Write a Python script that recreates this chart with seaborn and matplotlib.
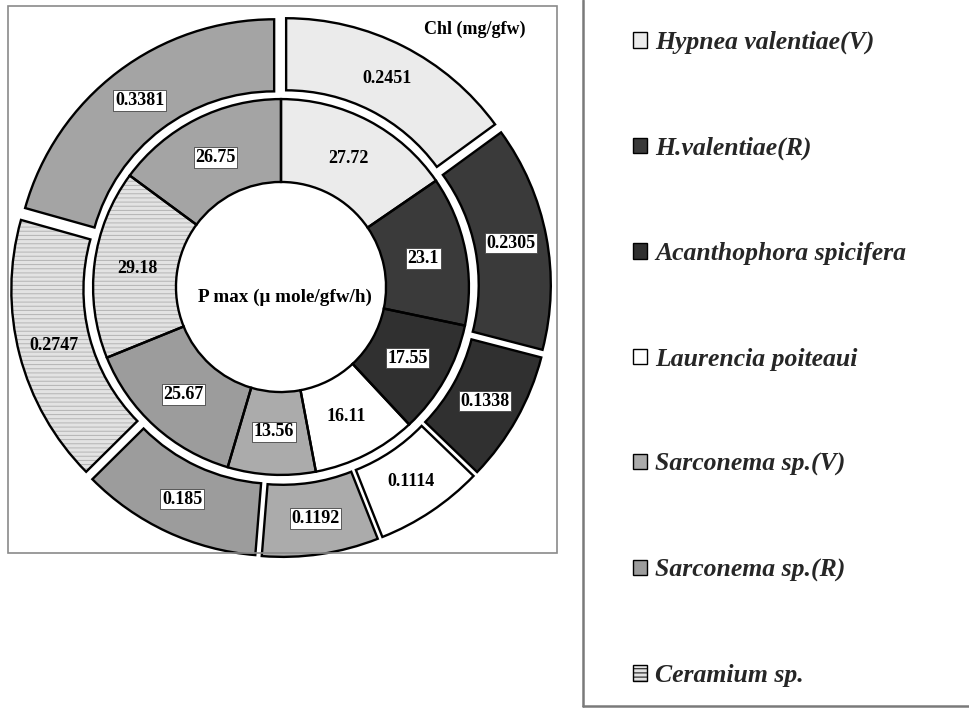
import matplotlib
matplotlib.use('Agg')
import matplotlib.pyplot as plt
import matplotlib.patches as mpatches
from matplotlib.lines import Line2D
import seaborn as sns

# data (clockwise from 12 o'clock)
species = ['Hypnea valentiae(V)', 'H.valentiae(R)', 'Acanthophora spicifera',
           'Laurencia poiteaui', 'Sarconema sp.(V)', 'Sarconema sp.(R)',
           'Ceramium sp.', '']
pmax = [27.72, 23.1, 17.55, 16.11, 13.56, 25.67, 29.18, 26.75]
chl = [0.2451, 0.2305, 0.1338, 0.1114, 0.1192, 0.185, 0.2747, 0.3381]

fills = ['#ebebeb', '#3a3a3a', '#303030', '#ffffff',
         '#ababab', '#9c9c9c', '#e3e3e3', '#a4a4a4']
hatches = [None, None, None, None, None, None, '----', None]
boxed = [False, True, True, False, True, True, False, True]

sns.set_theme(style='white')
plt.rcParams['font.family'] = ['Liberation Serif', 'DejaVu Serif']
plt.rcParams['hatch.linewidth'] = 0.7

W, H = 969, 708
fig = plt.figure(figsize=(W / 100, H / 100), dpi=100)
fig.patch.set_facecolor('white')

# donut centre and radius in pixels
cx, cy, R = 281, 287, 270
ax = fig.add_axes([(cx - R) / W, (H - cy - R) / H, 2 * R / W, 2 * R / H])

lab_font = dict(family='Liberation Serif', weight='bold', size=13, color='black')


def ring(values, radius, width, explode, labeldist):
    labels = [f'{v:g}' for v in values]
    wedges, texts = ax.pie(values, radius=radius, startangle=90, counterclock=False,
                           explode=[explode] * len(values), colors=fills,
                           labels=labels, labeldistance=labeldist,
                           wedgeprops=dict(width=width, linewidth=0),
                           textprops=lab_font)
    for w, h in zip(wedges, hatches):
        if h:
            w.set_hatch(h)
            w.set_edgecolor('#b4b4b4')
    # black outlines on top
    ax.pie(values, radius=radius, startangle=90, counterclock=False,
           explode=[explode] * len(values), colors=['none'] * len(values),
           wedgeprops=dict(width=width, fill=False, edgecolor='black', linewidth=1.7))
    for t, b in zip(texts, boxed):
        t.set_ha('center')
        t.set_va('center')
        t.set_zorder(5)
        if b:
            t.set_bbox(dict(facecolor='white', edgecolor='#444444', linewidth=0.6, pad=1.2))
    return wedges


# outer ring: chlorophyll, exploded
ring(chl, radius=0.958, width=0.267, explode=0.042, labeldist=0.861)
# inner ring: Pmax
ring(pmax, radius=0.696, width=0.307, explode=0.0, labeldist=0.772)

# pie resets the limits, so fix them afterwards
ax.set_xlim(-1, 1)
ax.set_ylim(-1, 1)
ax.set_aspect('equal')
ax.axis('off')

ax.text(4 / R, (cy - 297) / R, 'P max (μ mole/gfw/h)', ha='center', va='center',
        **{**lab_font, 'size': 13.8})

fig.text(525 / W, 1 - 29 / H, 'Chl (mg/gfw)', ha='right', va='center', **lab_font)

# plot area frame
fig.patches.append(mpatches.Rectangle((8 / W, 1 - 553 / H), (557 - 8) / W, (553 - 6) / H,
                                      transform=fig.transFigure, fill=False,
                                      edgecolor='#8a8a8a', linewidth=1.2))
# legend box edges
fig.lines.append(Line2D([583 / W, 583 / W], [1 - 706 / H, 1], transform=fig.transFigure,
                        color='#7a7a7a', linewidth=1.8))
fig.lines.append(Line2D([583 / W, 1], [1 - 706 / H, 1 - 706 / H], transform=fig.transFigure,
                        color='#7a7a7a', linewidth=1.8))

handles = [mpatches.Patch(facecolor=c, edgecolor='black', hatch=h, linewidth=1.0)
           for c, h in zip(fills[:7], hatches[:7])]
fig.legend(handles, species[:7], loc='upper left', bbox_to_anchor=(633 / W, 1 - 31 / H),
           frameon=False, borderaxespad=0, borderpad=0,
           prop=dict(family='Liberation Serif', weight='bold', style='italic', size=18.5),
           handlelength=0.55, handleheight=0.55, handletextpad=0.3, labelspacing=3.2)

fig.savefig('out.png', dpi=100, facecolor='white')
